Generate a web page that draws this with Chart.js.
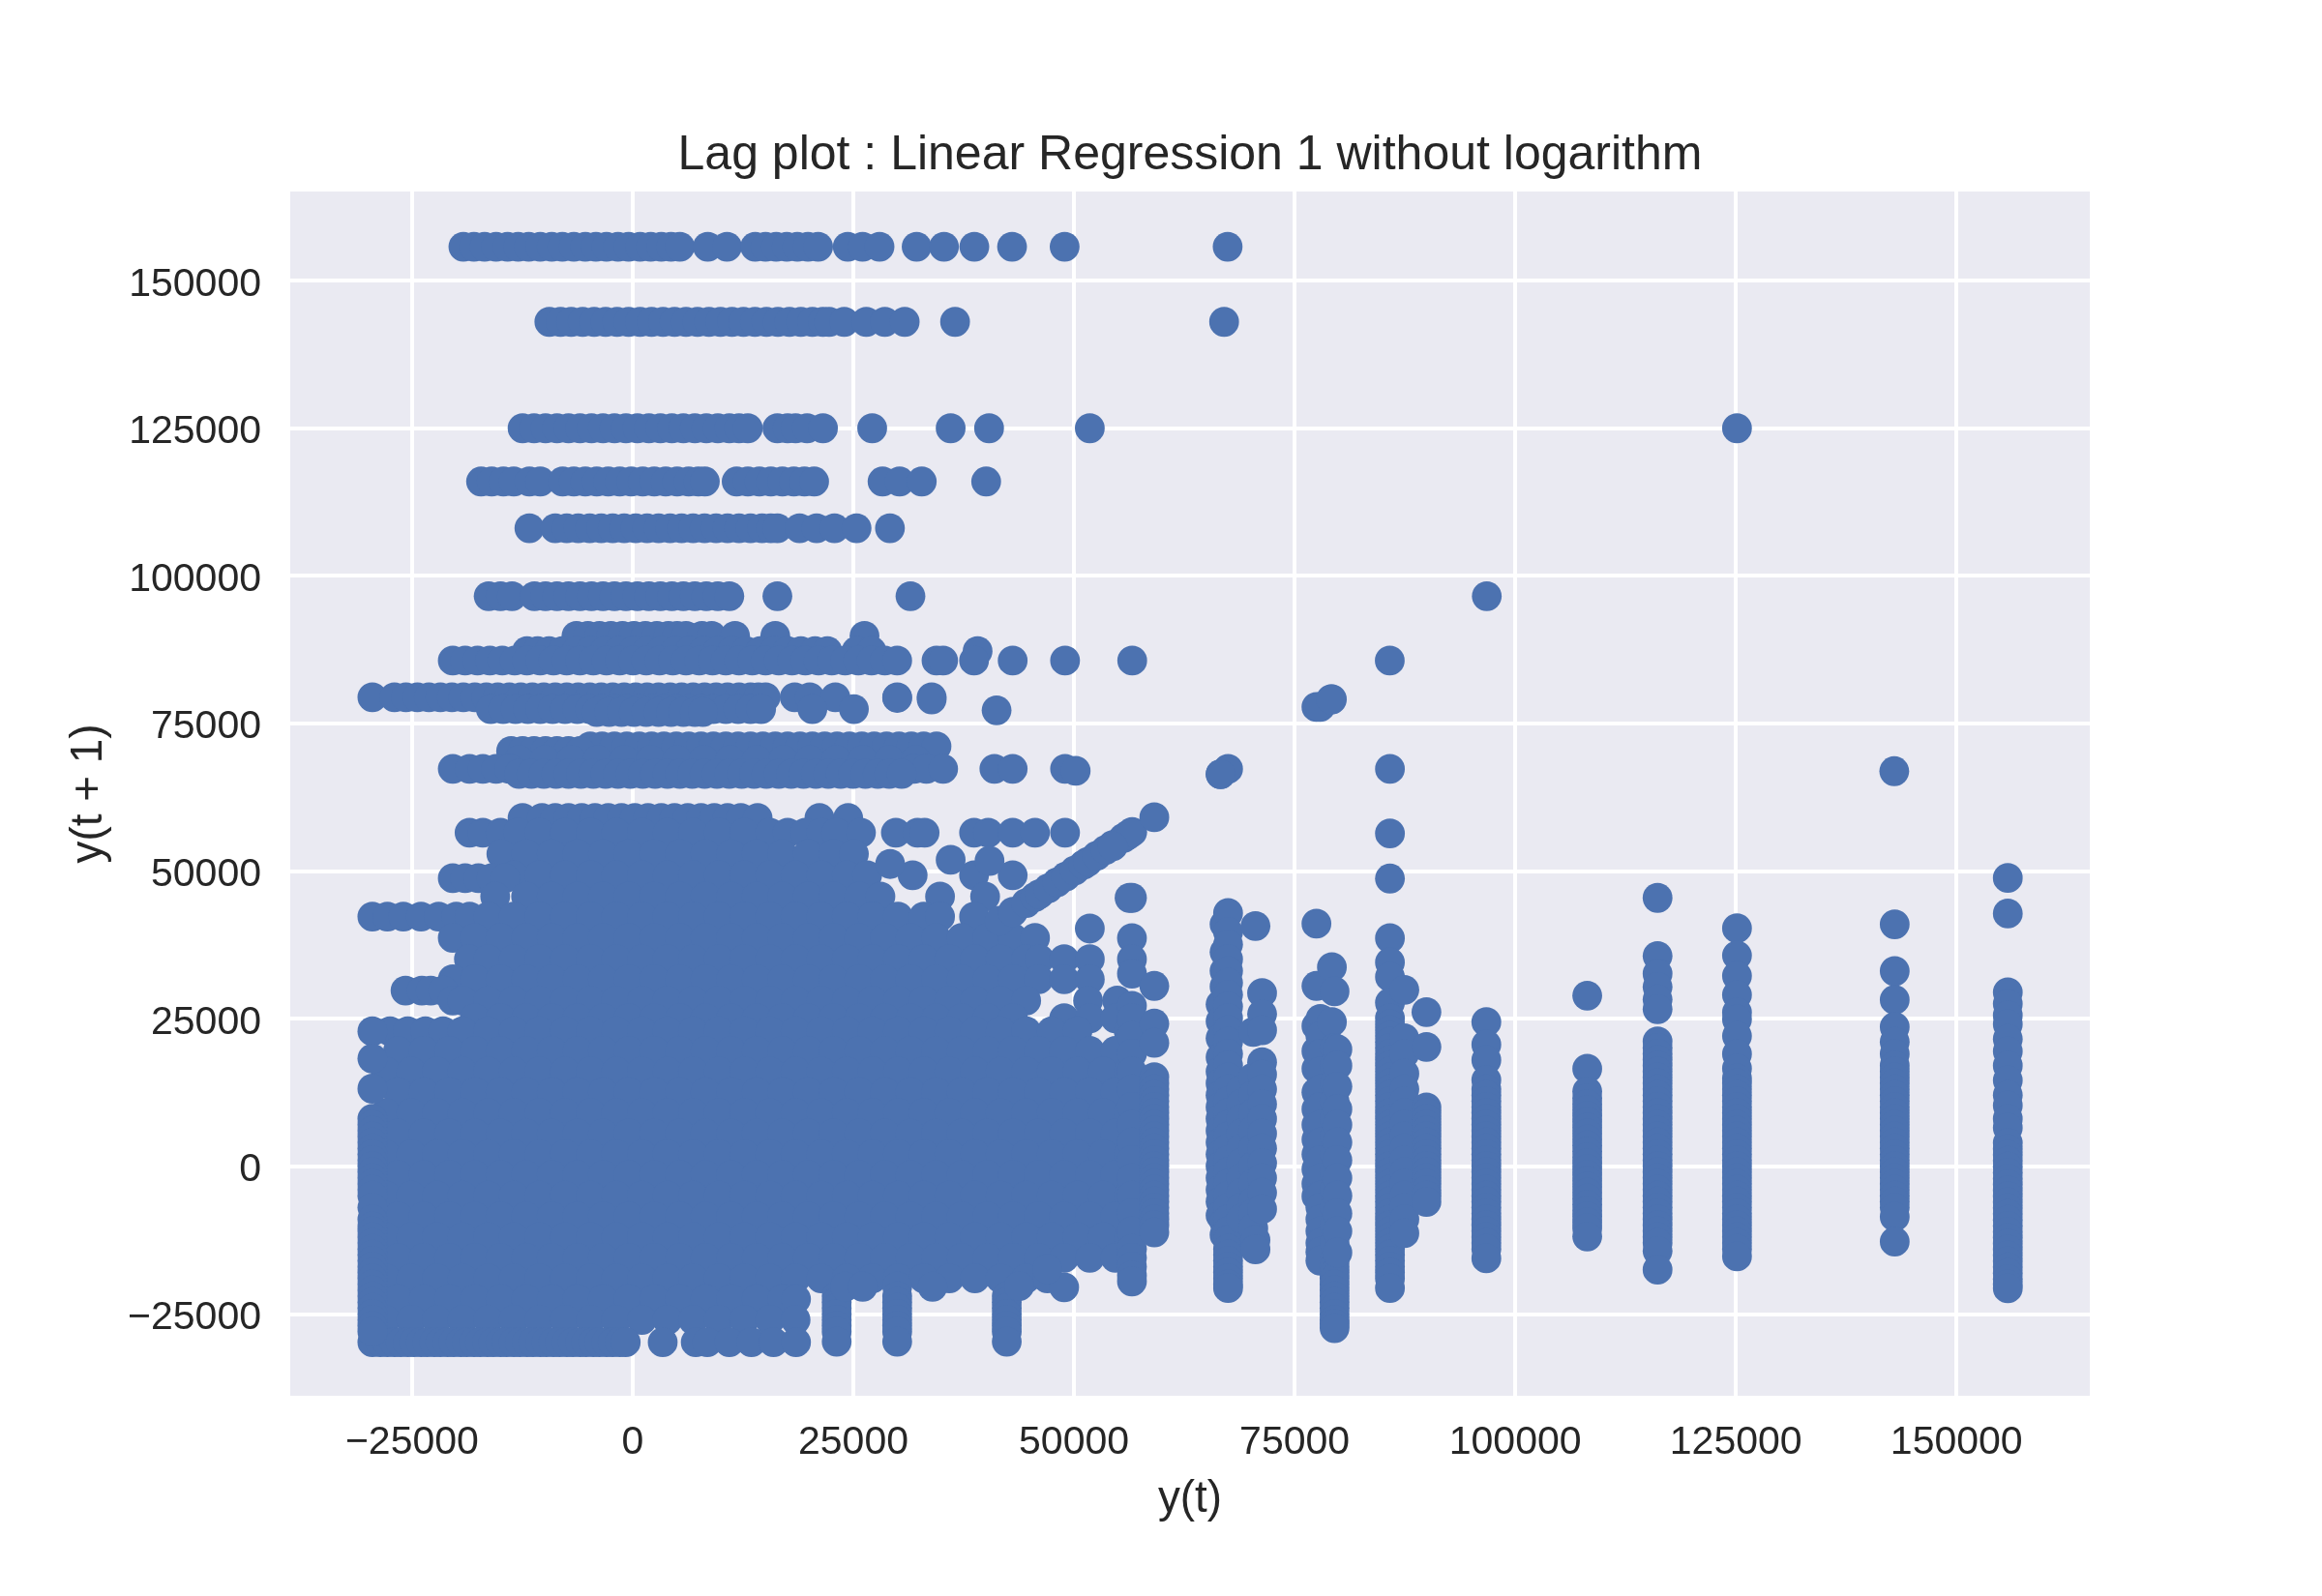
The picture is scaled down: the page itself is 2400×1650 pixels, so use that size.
<!DOCTYPE html>
<html>
<head>
<meta charset="utf-8">
<script src="https://cdn.jsdelivr.net/npm/chart.js@4"></script>
<style>html,body{margin:0;padding:0;background:#fff}canvas{display:block}</style>
</head>
<body>
<canvas id="c" width="2400" height="1650"></canvas>
<script>
// Values. The large solid area hides its individual points,
// so its rows are estimates that trace the filled shape and its outline.
const titleText = "Lag plot : Linear Regression 1 without logarithm";
const xLabel = "y(t)";
const yLabel = "y(t + 1)";
const xTickValues = [-25000,0,25000,50000,75000,100000,125000,150000];
const yTickValues = [-25000,0,25000,50000,75000,100000,125000,150000];

// Horizontal runs: y(t + 1) level and the y(t) values on it
const rowY = [155500,142800,124800,115800,107900,96400,89700,87100,85500,79300,77300,76800,71000,70200,68700,67200,66350];
const rowX = [
[-19200,-18000,-16800,-15500,-14200,-13000,-11800,-10500,-9200,-8000,-6700,-5400,-4200,-3000,-1700,-500,800,2000,3200,4300,5300,8460,10640,13830,15000,16200,17400,18600,19800,20950,24300,25980,27900,32100,35200,38630,42900,48850,67300],
[-9470,-8200,-7000,-5700,-4400,-3100,-1800,-500,800,2100,3400,4700,6000,7300,8600,9900,11200,12500,13800,15100,16400,17700,19000,20300,21500,22200,23900,26400,28500,30750,36450,66900],
[-12500,-11200,-9900,-8600,-7300,-6000,-4700,-3400,-2100,-800,500,1800,3100,4400,5700,7000,8300,9600,10900,12000,12990,16340,17500,18400,19700,21500,27070,35950,40300,51700,124950],
[-17200,-16000,-14670,-13500,-11730,-10500,-7960,-6700,-5400,-4100,-2800,-1500,-200,1100,2400,3700,5000,6300,7400,8130,11730,13000,14300,15600,16900,18200,19400,20500,28240,30170,32680,39970],
[-11730,-8800,-7500,-6200,-4900,-3600,-2300,-1000,300,1600,2900,4200,5500,6800,8100,9400,10700,12000,13300,14600,15600,16340,18850,20780,22800,25300,29080],
[-16340,-15000,-13700,-11150,-9900,-8600,-7300,-6000,-4700,-3400,-2100,-800,500,1800,3100,4400,5700,7000,8300,9600,10900,16340,31400,96630],
[-6400,-5100,-3800,-2500,-1200,100,1400,2700,4000,5000,6000,7800,8900,11550,16100,26200],
[-12000,-10800,-9500,-8000,-6400,-4800,-3200,-1600,0,1600,3200,4800,6400,8000,9600,11200,12800,14400,16000,17500,19000,20600,22000,25300,27000,39000],
[-20400,-19000,-17600,-16200,-14800,-13400,-12000,-10500,-9000,-7500,-6000,-4500,-3000,-1500,0,1500,3000,4500,6000,7500,9000,10500,12000,13500,15000,16500,18000,19500,21000,22500,24000,25500,27000,28500,29900,34350,35100,38600,42970,48900,56500,85650],
[-29500,-27000,-25700,-24400,-23100,-21800,-20500,-19200,-17900,-16600,-15300,-14000,-12700,-11400,-10100,-8800,-7500,-6200,-4900,-3600,-2300,-1000,300,1600,2900,4200,5500,6800,8100,9400,10700,12000,13300,14200,15000,18300,20000,22900,29900,33800],
[-16100,-14700,-13300,-11900,-10500,-9100,-7700,-6300,-4900,-3500,-2100,-700,700,2100,3500,4900,6300,7700,9100,10500,11900,13300,14500,20300,25000],
[-4100,-2700,-1300,100,1500,2900,4300,5700,7000,7900],
[-4850,-3500,-2100,-700,700,2100,3500,4900,6300,7700,9100,10500,11900,13300,14700,16100,17500,18900,20300,21700,23100,24500,25900,27300,28700,30100,31500,32900,34350],
[-13800,-12500,-11200,-9900,-8600,-7300,-6000],
[-12900,-10000,-7000,-4000,-1000,2000,5000,8000,11000,14000,17000,20000,23000,26000,29000,32000],
[-20400,-18500,-17000,-15500,-14000,31800,33200,35100,40900,42970,48900],
[-12900,-11500,-10100,-8700,-7300,-5900,-4500,-3100,-1700,-300,1100,2500,3900,5300,6700,8100,9500,10900,12300,13700,15100,16500,17900,19300,20700,22100,23500,24900,26300,27700,29000,30400]
];

// Rows that trace the solid area
const blobY = [58900,56400,52800,49200,48700,45600,42200,38600,35000,31600,29700,28000,25000,22800,19500,16000,12500,9000,5500,2000,-1500,-5000,-8500,-12000,-15500,-19000,-22500,-26000,-29800];
const blobX = [
[-12500,-10300,-8800,-7300,-5800,-4300,-2800,-1300,200,1700,3200,4700,6200,7700,9200,10700,12200,14100,21100,24350],
[-18500,-17000,-15000,-13000,-10600,-7700,-4800,-1900,1000,3900,6800,9700,12600,15500,17500,19500,21300,23000,25800,29750,32200,33000,38600,40200,42970,45500,48900],
[-14900,-12100,-9200,-6300,-3400,-500,2400,5300,8200,11100,14000,16900,19800,22700,25000],
[-13500,-10600,-7700,-4800,-1900,1000,3900,6800,9700,12600,15500,18400,21300,24200,26500,31650,38600,42970],
[-20400,-19000,-17500,-16000,-14500],
[-15600,-12100,-9200,-6300,-3400,-500,2400,5300,8200,11100,14000,16900,19800,22700,25600,28000,34750,39850],
[-29500,-27800,-26000,-24000,-22000,-20000,-18500,-16400,-13500,-10600,-7700,-4800,-1900,1000,3900,6800,9700,12600,15500,18400,21300,24200,27100,30000,32900,34750,38600],
[-20400,-17900,-15000,-12100,-9200,-6300,-3400,-500,2400,5300,8200,11100,14000,16900,19800,22700,25600,28500,31400,34300,37200,40100,43000,45500],
[-18570,-16400,-13500,-10600,-7700,-4800,-1900,1000,3900,6800,9700,12600,15500,18400,21300,24200,27100,30000,32900,35800,38700,41600,44500,46000,48800,51700],
[-20400,-17900,-15000,-12100,-9200,-6300,-3400,-500,2400,5300,8200,11100,14000,16900,19800,22700,25600,28500,31400,34300,37200,40100,43000,45900,48800,51700],
[-25750,-23900,-22900,-21500],
[-20400,-19300,-16400,-13500,-10600,-7700,-4800,-1900,1000,3900,6800,9700,12600,15500,18400,21300,24200,27100,30000,32900,35800,38700,41600,44500,51500,54800],
[-17900,-15000,-12100,-9200,-6300,-3400,-500,2400,5300,8200,11100,14000,16900,19800,22700,25600,28500,31400,34300,37200,40100,43000,48800,51700,54600],
[-27500,-25500,-23500,-21500,-19300,-16400,-13500,-10600,-7700,-4800,-1900,1000,3900,6800,9700,12600,15500,18400,21300,24200,27100,30000,32900,35800,38700,41600,44500,47400,50300,56100],
[-26600,-23700,-20800,-17900,-15000,-12100,-9200,-6300,-3400,-500,2400,5300,8200,11100,14000,16900,19800,22700,25600,28500,31400,34300,37200,40100,43000,45900,48800,51700,54600],
[-28000,-25100,-22200,-19300,-16400,-13500,-10600,-7700,-4800,-1900,1000,3900,6800,9700,12600,15500,18400,21300,24200,27100,30000,32900,35800,38700,41600,44500,47400,50300,53200,56100],
[-26600,-23700,-20800,-17900,-15000,-12100,-9200,-6300,-3400,-500,2400,5300,8200,11100,14000,16900,19800,22700,25600,28500,31400,34300,37200,40100,43000,45900,48800,51700,54600],
[-28000,-25100,-22200,-19300,-16400,-13500,-10600,-7700,-4800,-1900,1000,3900,6800,9700,12600,15500,18400,21300,24200,27100,30000,32900,35800,38700,41600,44500,47400,50300,53200,56100],
[-26600,-23700,-20800,-17900,-15000,-12100,-9200,-6300,-3400,-500,2400,5300,8200,11100,14000,16900,19800,22700,25600,28500,31400,34300,37200,40100,43000,45900,48800,51700,54600],
[-28000,-25100,-22200,-19300,-16400,-13500,-10600,-7700,-4800,-1900,1000,3900,6800,9700,12600,15500,18400,21300,24200,27100,30000,32900,35800,38700,41600,44500,47400,50300,53200,56100],
[-26600,-23700,-20800,-17900,-15000,-12100,-9200,-6300,-3400,-500,2400,5300,8200,11100,14000,16900,19800,22700,25600,28500,31400,34300,37200,40100,43000,45900,48800,51700,54600],
[-28000,-25100,-22200,-19300,-16400,-13500,-10600,-7700,-4800,-1900,1000,3900,6800,9700,12600,15500,18400,21300,24200,27100,30000,32900,35800,38700,41600,44500,47400,50300,53200,56100],
[-26600,-23700,-20800,-17900,-15000,-12100,-9200,-6300,-3400,-500,2400,5300,8200,11100,14000,16900,19800,22700,25600,28500,31400,34300,37200,40100,43000,45900,48800,51700,54600],
[-28000,-25100,-22200,-19300,-16400,-13500,-10600,-7700,-4800,-1900,1000,3900,6800,9700,12600,15500,18400,21300,24200,27100,30000,32900,35800,38700,41600,44500,47400,50300,53200,56100],
[-26600,-23700,-20800,-17900,-15000,-12100,-9200,-6300,-3400,-500,2400,5300,8200,11100,14000,16900,19800,22700,25600,28500,31400,34300,37200,40100,43000,45900,48800,51700,54600],
[-28000,-25100,-22200,-19300,-16400,-13500,-10600,-7700,-4800,-1900,1000,3900,6800,9700,12600,15500,18400,21300,24200,27100,30000,32900,35800,38700,41600,44500,46900],
[-26600,-23700,-20800,-17900,-15000,-12100,-9200,-6300,-3400,-500,2400,5300,8200,11100,14000,16900,18450],
[-28000,-25100,-22200,-19300,-16400,-13500,-10600,-7700,-4800,-1900,1000,3900,6800,9700,12600,15500,18400],
[-29500,-28600,-27800,-27000,-26300,-25500,-24800,-24000,-23300,-22500,-21800,-21000,-20300,-19500,-18800,-18000,-17300,-16500,-15800,-15000,-14300,-13500,-12800,-12000,-11300,-10500,-9800,-9000,-8300,-7500,-6800,-6000,-5300,-4500,-3800,-3000,-2300,-1500,-830,3360,7100,8400,10900,13400,15900,18450]
];

// Vertical runs: y(t) value and the y(t + 1) values on it
const colX = [-29500,23050,29900,42300,56470,59000,66500,66950,67350,68830,70200,70450,71200,77350,77800,79100,79400,79720,85670,87300,89800,96580,108000,115960,124950,142800,155600];
const colY = [
[22800,18200,13100,8000,7000,6000,5000,4000,3000,2000,1000,0,-1000,-2000,-3000,-4000,-5000,-7000,-9000,-10200,-11000,-12000,-13000,-14000,-15000,-16000,-17000,-18000,-19000,-20000,-21000,-22000,-23000,-24000,-25000,-26000,-27000,-28000],
[-22000,-23000,-24000,-25000,-26000,-27000,-28000,-29700],
[-20400,-22000,-23000,-24000,-25000,-26000,-27000,-28000,-29700],
[-22000,-23000,-24000,-25000,-26000,-27000,-28000,-29700],
[45370,38550,35000,32540,27100,25000,22000,19000,16000,13000,10000,7000,4000,1000,-2000,-5000,-8000,-11000,-14000,-15500,-17000,-18500,-19500],
[30480,24100,20840,15050,14000,13000,12000,11000,10000,9000,8000,7000,6000,5000,4000,3000,2000,1000,0,-1000,-2000,-3000,-4000,-5000,-6000,-7000,-8000,-9000,-10000,-11200],
[66300,27370,24500,21640,18400,16000,14000,12000,10000,8000,6000,4000,2000,0,-2000,-4000,-6000,-8350],
[40900,36200,33000,30370,-9500,-11630],
[67180,42800,39600,37500,35000,33000,31000,29000,27000,25000,23000,21000,19000,17000,15000,13000,11000,9000,7000,5000,3000,1000,-1000,-3000,-5000,-7000,-9000,-11000,-12500,-14000,-15000,-16000,-17000,-18000,-19000,-20000,-20630],
[12900,10500,8000,5500,3000,500,-2000,-4500,-7000,-8900],
[22700,15000,12000,9000,6000,3000,0,-3000,-6000,-8000,-10540],
[40620,-12500,-14080],
[29270,25730,23000,17560,15500,13000,10500,8000,5500,3000,500,-2000,-4500,-7260],
[77650,41000,30480,23700,19450,16460,12500,9640,7000,4500,2000,-500,-3000,-5090],
[24900,22000,19000,16000,13000,10000,7000,4000,1000,-2000,-5000,-7000,-9000,-11000,-13000,-14500,-15980],
[78950,33640,24360],
[29550,20000,17000,14000,11000,8000,5000,2000,-1000,-4000,-7000,-10000,-13000,-16000,-17000,-18000,-19000,-20000,-21000,-22000,-23000,-24000,-25000,-26000,-26700,-27400],
[19730,17000,13460,9640,7000,4000,1000,-2000,-5000,-8000,-11000,-14630],
[67180,56260,48640,38540,34450,32000,27640,25000,24000,23000,22000,21000,20000,19000,18000,17000,16000,15000,14000,13000,12000,11000,10000,9000,8000,7000,6000,5000,4000,3000,2000,1000,0,-1000,-2000,-3000,-4000,-5000,-6000,-7000,-8000,-9000,-10000,-11000,-12000,-13000,-14000,-15000,-16000,-17000,-18000,-19000,-20630],
[29820,21640,19000,15640,13000,11000,9000,7000,5000,3000,1000,-1000,-3000,-5000,-7000,-9000,-11350],
[26060,20170,9920,9000,8000,7000,6000,5000,4000,3000,2000,1000,0,-1000,-2000,-3000,-4060,-5000,-6060],
[24360,20550,17930,14550,13000,12000,11000,10000,9000,8000,7000,6000,5000,4000,3000,2000,1000,0,-1000,-2000,-3000,-4000,-5000,-6000,-7000,-8000,-9000,-10000,-11000,-12000,-13000,-14000,-15600],
[28840,16460,12640,11500,10500,9500,8500,7500,6500,5500,4500,3500,2500,1500,500,-500,-1500,-2500,-3500,-4500,-5500,-6500,-7500,-8500,-9500,-10500,-11900],
[45370,35550,32540,30300,28190,26550,21090,20000,19000,18000,17000,16000,15000,14000,13000,12000,11000,10000,9000,8000,7000,6000,5000,4000,3000,2000,1000,0,-1000,-2000,-3000,-4000,-5000,-6000,-7000,-8000,-9000,-10000,-11000,-12000,-13000,-14350,-17520],
[40230,35630,32160,28960,26000,24800,22000,18950,16500,14820,14000,13000,12000,11000,10000,9000,8000,7000,6000,5000,4000,3000,2000,1000,0,-1000,-2000,-3000,-4000,-5000,-6000,-7000,-8000,-9000,-10000,-11000,-12000,-13000,-14000,-15280],
[40900,32980,28120,23540,21000,18950,17000,16000,15000,14000,13000,12000,11000,10000,9000,8000,7000,6000,5000,4000,3000,2000,1000,0,-1000,-2000,-3000,-4000,-5000,-6000,-7000,-8570,-12780],
[48740,42730,29380,27450,25500,23980,21500,19400,17000,14500,12000,10240,8000,6480,3930,2900,1900,900,-100,-1100,-2100,-3100,-4100,-5100,-6100,-7100,-8100,-9100,-10100,-11100,-12100,-13100,-14100,-15100,-16100,-17100,-18100,-19100,-20000,-20680]
];

// Points on the diagonal y(t + 1) = y(t)
const diagonal = [41500,43000,44500,45500,46000,47000,48000,49000,50000,51000,51500,52500,53500,54300,55500,56000,56500,59000];

// Single points read individually
const singleX = [29100,35950,40350,50100,66500,142750,41150,77770,79000,24000,26000,33900,43700,48800,46900,51700,56200,54300,29900,33800];
const singleY = [51100,51800,51630,66850,66300,66800,77100,77650,78950,-20400,-20400,-20400,-20300,-20500,-17400,40180,45370,54090,79200,78950];

const axisMin = -38800;
const axisMax = 165100;

// Readings above used a slightly short ruler; these factors correct it.
const rulerX = 1.0011;
const rulerY = 1.00104;
const addPoint = (list,x,y) => list.push({x:x*rulerX+38,y:y*rulerY+85});

const points = [];
rowY.forEach((y,i)=>rowX[i].forEach(x=>addPoint(points,x,y)));
blobY.forEach((y,i)=>blobX[i].forEach(x=>addPoint(points,x,y)));
colX.forEach((x,i)=>colY[i].forEach(y=>addPoint(points,x,y)));
diagonal.forEach(v=>addPoint(points,v,v));
singleX.forEach((x,i)=>addPoint(points,x,singleY[i]));

const INK = '#262626';
const fmt = v => String(v).replace('-', '\u2212');

const plotBg = {
  id:'plotBg',
  beforeDraw(chart){
    const {ctx,chartArea:a} = chart;
    ctx.save();
    ctx.fillStyle='#fff';
    ctx.fillRect(0,0,chart.width,chart.height);
    ctx.fillStyle='#EAEAF2';
    ctx.fillRect(a.left,a.top,a.right-a.left,a.bottom-a.top);
    ctx.restore();
  }
};

new Chart(document.getElementById('c'),{
  type:'scatter',
  data:{datasets:[{data:points,backgroundColor:'#4C72B0',borderWidth:0,pointRadius:15.4,pointHoverRadius:15.4}]},
  plugins:[plotBg],
  options:{
    responsive:false,
    devicePixelRatio:1,
    animation:false,
    events:[],
    layout:{padding:{left:65,right:240,top:0,bottom:72}},
    plugins:{
      legend:{display:false},
      tooltip:{enabled:false},
      title:{display:true,text:titleText,fullSize:false,color:INK,
        font:{family:'"Liberation Sans"',size:50,weight:'normal',lineHeight:1.2},
        padding:{top:131.5,bottom:6.5}}
    },
    scales:{
      x:{type:'linear',min:axisMin,max:axisMax,
        afterFit(s){s.height=135;},
        afterBuildTicks(s){s.ticks=xTickValues.map(value=>({value}));},
        grid:{color:'#fff',lineWidth:4,drawTicks:false},
        border:{display:false},
        ticks:{color:INK,padding:24,maxRotation:0,autoSkip:false,font:{family:'"Liberation Sans"',size:41},callback:fmt},
        title:{display:true,text:xLabel,color:INK,font:{family:'"Liberation Sans"',size:45.83},padding:{top:12,bottom:0}}
      },
      y:{type:'linear',min:axisMin,max:axisMax,
        afterFit(s){s.width=235;},
        afterBuildTicks(s){s.ticks=yTickValues.map(value=>({value}));},
        grid:{color:'#fff',lineWidth:4,drawTicks:false},
        border:{display:false},
        ticks:{color:INK,padding:30,labelOffset:4,autoSkip:false,font:{family:'"Liberation Sans"',size:41},callback:fmt},
        title:{display:true,text:yLabel,color:INK,font:{family:'"Liberation Sans"',size:45.83},padding:{top:0,bottom:0}}
      }
    }
  }
});
</script>
</body>
</html>
